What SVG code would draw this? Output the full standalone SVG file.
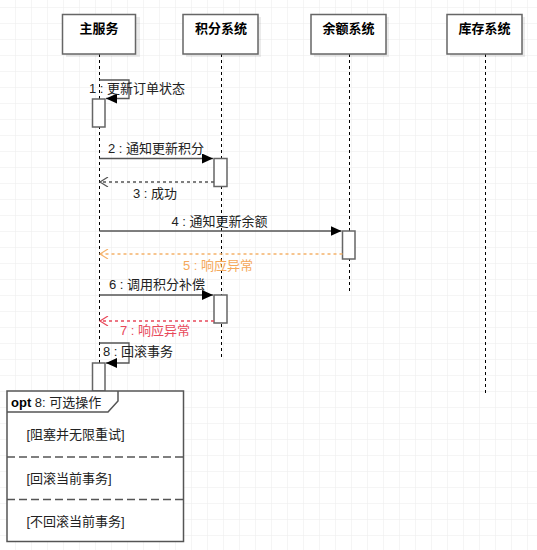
<svg xmlns="http://www.w3.org/2000/svg" width="537" height="550" viewBox="0 0 537 550">
<style>
.hdr{fill:#fff;stroke:#666;stroke-width:1.5}
.shd{fill:#000;opacity:0.08}
.ht{font-family:"Liberation Sans","Noto Sans CJK SC",sans-serif;font-size:13px;font-weight:bold;fill:#000;text-anchor:middle}
.t{font-family:"Liberation Sans","Noto Sans CJK SC",sans-serif;font-size:13px;fill:#222}
.life{stroke:#000;stroke-width:1;stroke-dasharray:3 3;fill:none}
.act{fill:#fff;stroke:#666;stroke-width:1.5}
.msg{stroke:#555;stroke-width:1.3;fill:none}
.ret{stroke:#555;stroke-width:1.3;fill:none;stroke-dasharray:3 3}
.frame{fill:none;stroke:#555;stroke-width:1.5}
.sep{stroke:#555;stroke-width:1.5;stroke-dasharray:8 4}
</style>
<defs>
<pattern id="grid" x="15" y="7" width="16" height="16" patternUnits="userSpaceOnUse">
<path d="M0 0H16M0 0V16" fill="none" stroke="#ececec" stroke-width="1"/>
</pattern>
<marker id="fill" markerWidth="12" markerHeight="10" refX="11" refY="5" orient="auto" markerUnits="userSpaceOnUse">
<path d="M0 0L11 5L0 10Z" fill="#000"/>
</marker>
<marker id="open" markerWidth="12" markerHeight="10" refX="10" refY="5" orient="auto" markerUnits="userSpaceOnUse">
<path d="M2 0L10 5L2 10" fill="none" stroke="#555" stroke-width="1.2"/>
</marker>
<marker id="openO" markerWidth="12" markerHeight="10" refX="10" refY="5" orient="auto" markerUnits="userSpaceOnUse">
<path d="M2 0L10 5L2 10" fill="none" stroke="#f5b26b" stroke-width="1.2"/>
</marker>
<marker id="openR" markerWidth="12" markerHeight="10" refX="10" refY="5" orient="auto" markerUnits="userSpaceOnUse">
<path d="M2 0L10 5L2 10" fill="none" stroke="#e8495b" stroke-width="1.2"/>
</marker>
</defs>
<rect width="537" height="550" fill="#fff"/>
<rect width="537" height="550" fill="url(#grid)"/>

<g id="lifelines">
<line class="life" x1="99.5" y1="54" x2="99.5" y2="391"/>
<line class="life" x1="221.5" y1="54" x2="221.5" y2="357"/>
<line class="life" x1="349.5" y1="54" x2="349.5" y2="292"/>
<line class="life" x1="485.5" y1="54" x2="485.5" y2="393"/>
</g>

<g id="n-main">
<rect class="shd" x="66" y="17" width="74" height="40"/>
<rect class="hdr" x="62.5" y="14.5" width="73" height="39.5"/>
<text class="ht" x="99" y="32.5">主服务</text>
</g>
<g id="n-points">
<rect class="shd" x="186" y="17" width="75" height="40"/>
<rect class="hdr" x="183" y="14.5" width="75" height="39.5"/>
<text class="ht" x="221" y="32.5">积分系统</text>
</g>
<g id="n-balance">
<rect class="shd" x="314" y="17" width="75" height="40"/>
<rect class="hdr" x="311" y="14.5" width="75" height="39.5"/>
<text class="ht" x="348.5" y="32.5">余额系统</text>
</g>
<g id="n-stock">
<rect class="shd" x="450" y="17" width="75" height="40"/>
<rect class="hdr" x="447" y="14.5" width="75" height="39.5"/>
<text class="ht" x="484.5" y="32.5">库存系统</text>
</g>

<g id="activations">
<rect class="act" x="92.5" y="99" width="12.5" height="28"/>
<rect class="act" x="214" y="158.5" width="13" height="28"/>
<rect class="act" x="342.5" y="231" width="12.5" height="28"/>
<rect class="act" x="214" y="295" width="13" height="28"/>
<rect class="act" x="92.5" y="363" width="12.5" height="28"/>
</g>

<g id="connectors">
<path class="msg" d="M99.5 80H129V98.5H106" marker-end="url(#fill)"/>
<line class="msg" x1="99.5" y1="158.5" x2="213" y2="158.5" marker-end="url(#fill)"/>
<line class="ret" x1="214" y1="182" x2="100" y2="182" marker-end="url(#open)"/>
<line class="msg" x1="99.5" y1="231" x2="341.5" y2="231" marker-end="url(#fill)"/>
<line class="ret" x1="342.5" y1="254" x2="100" y2="254" style="stroke:#f5b26b" marker-end="url(#openO)"/>
<line class="msg" x1="99.5" y1="295" x2="213" y2="295" marker-end="url(#fill)"/>
<line class="ret" x1="214" y1="321" x2="100" y2="321" style="stroke:#e8495b" marker-end="url(#openR)"/>
<path class="msg" d="M99.5 343H129V363H106" marker-end="url(#fill)"/>
</g>

<g id="labels">
<text class="t" x="89" y="93">1 : 更新订单状态</text>
<text class="t" x="108" y="152.5">2 : 通知更新积分</text>
<text class="t" x="133" y="198">3 : 成功</text>
<text class="t" x="171.5" y="226">4 : 通知更新余额</text>
<text class="t" x="183" y="269.5" style="fill:#f5a85a">5 : 响应异常</text>
<text class="t" x="109" y="289">6 : 调用积分补偿</text>
<text class="t" x="120" y="334.5" style="fill:#e8495b">7 : 响应异常</text>
<text class="t" x="103" y="356">8 : 回滚事务</text>
</g>

<g id="opt-frame">
<rect x="7" y="391" width="176.5" height="150.5" fill="#fff"/>
<rect class="frame" x="7" y="391" width="176.5" height="150.5"/>
<path class="frame" d="M7 412H108L118 401V391"/>
<text class="t" x="11" y="407"><tspan font-weight="bold" fill="#000">opt</tspan> 8: 可选操作</text>
<line class="sep" x1="7" y1="457" x2="183.5" y2="457"/>
<line class="sep" x1="7" y1="499.5" x2="183.5" y2="499.5"/>
<text class="t" x="26.5" y="438.5">[阻塞并无限重试]</text>
<text class="t" x="26.5" y="482.5">[回滚当前事务]</text>
<text class="t" x="26.5" y="526">[不回滚当前事务]</text>
</g>
</svg>
